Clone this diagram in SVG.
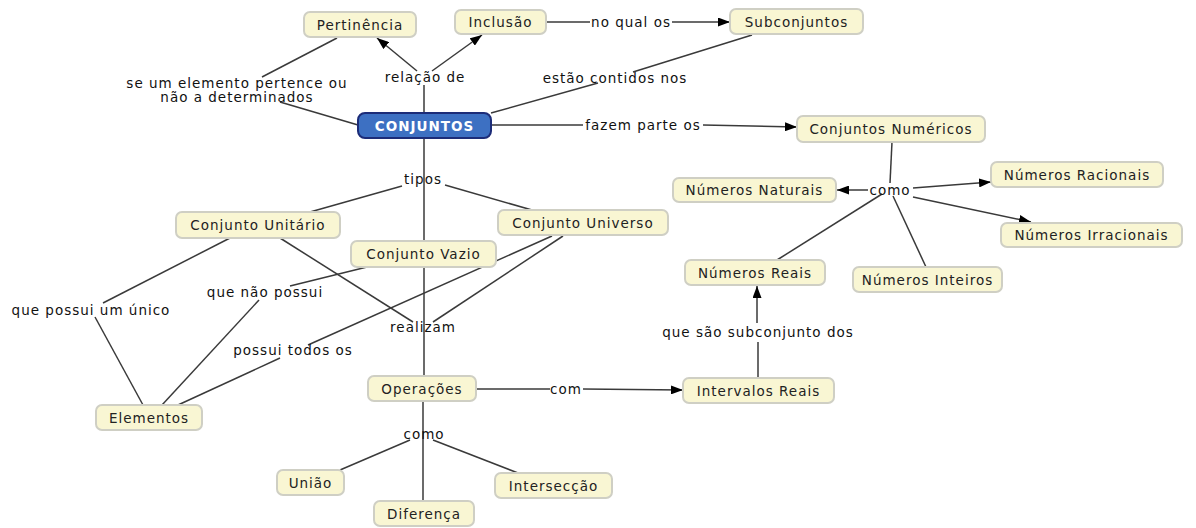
<svg xmlns="http://www.w3.org/2000/svg" width="1196" height="528" viewBox="0 0 1196 528">
  <style>
    text { font-family: "DejaVu Sans", Verdana, sans-serif; font-size: 13.5px; letter-spacing: 1px; text-anchor: middle; dominant-baseline: central; }
    .node rect { fill: #f9f6d3; stroke: #cfcfc4; stroke-width: 2; }
    .node text { fill: #222; }
    .root rect { fill: #3d70c2; stroke: #1c2c78; stroke-width: 2; }
    .root text { fill: #ffffff; font-weight: bold; }
    .label { fill: #111; }
    #connectors path { fill: none; stroke: #3a3a3a; stroke-width: 1.5; }
    #connectors path.arrow { marker-end: url(#head); }
  </style>
  <defs>
    <marker id="head" viewBox="0 0 12 9" refX="12" refY="4.5" markerWidth="12" markerHeight="9" markerUnits="userSpaceOnUse" orient="auto">
      <path d="M0,0 L12,4.5 L0,9 z" fill="#000"/>
    </marker>
  </defs>
  <rect width="1196" height="528" fill="#ffffff"/>

  <g id="connectors">
    <path d="M424,113 L424,85"/>
    <path class="arrow" d="M417,71 L377,38"/>
    <path class="arrow" d="M432,71 L482,35"/>
    <path d="M358,125 L280,102"/>
    <path d="M262,77 L337,38"/>
    <path d="M491,113 L598,83"/>
    <path d="M633,72 L752,35"/>
    <path d="M546,22 L590,22"/>
    <path class="arrow" d="M672,22 L730,22"/>
    <path d="M491,125 L583,125"/>
    <path class="arrow" d="M703,125 L797,127"/>
    <path d="M892,142 L890,183"/>
    <path class="arrow" d="M868,190 L837,190"/>
    <path class="arrow" d="M913,188 L991,182"/>
    <path class="arrow" d="M913,197 L1031,222"/>
    <path d="M882,194 L777,260"/>
    <path d="M893,196 L926,267"/>
    <path d="M424,138 L424,241"/>
    <path d="M402,186 L310,212"/>
    <path d="M445,185 L532,210"/>
    <path d="M230,238 L103,303"/>
    <path d="M95,317 L143,405"/>
    <path d="M280,238 L413,322"/>
    <path d="M367,267 L290,286"/>
    <path d="M259,300 L162,405"/>
    <path d="M552,236 L308,345"/>
    <path d="M280,358 L178,405"/>
    <path d="M563,236 L433,322"/>
    <path d="M424,267 L424,376"/>
    <path d="M476,389 L550,389"/>
    <path class="arrow" d="M583,389 L683,390"/>
    <path d="M423,401 L423,501"/>
    <path d="M410,440 L340,470"/>
    <path d="M433,440 L518,473"/>
    <path d="M758,378 L758,342"/>
    <path class="arrow" d="M757,323 L757,286"/>
  </g>

  <g id="linking-phrases">
    <text class="label" x="425" y="77">relação de</text>
    <text class="label" x="237" y="83">se um elemento pertence ou</text>
    <text class="label" x="237" y="97">não a determinados</text>
    <text class="label" x="615" y="78">estão contidos nos</text>
    <text class="label" x="631" y="22">no qual os</text>
    <text class="label" x="643" y="125">fazem parte os</text>
    <text class="label" x="890" y="190">como</text>
    <text class="label" x="423" y="179">tipos</text>
    <text class="label" x="91" y="310">que possui um único</text>
    <text class="label" x="265" y="292">que não possui</text>
    <text class="label" x="423" y="327">realizam</text>
    <text class="label" x="293" y="350">possui todos os</text>
    <text class="label" x="566" y="389">com</text>
    <text class="label" x="424" y="434">como</text>
    <text class="label" x="758" y="332">que são subconjunto dos</text>
  </g>

  <g id="conjuntos" class="root"><rect x="358" y="113" width="133" height="25" rx="7"/><text x="424.5" y="125.5">CONJUNTOS</text></g>
  <g id="pertinencia" class="node"><rect x="304" y="12" width="112" height="25" rx="6"/><text x="360" y="24.5">Pertinência</text></g>
  <g id="inclusao" class="node"><rect x="455" y="10" width="91" height="24" rx="6"/><text x="500.5" y="22">Inclusão</text></g>
  <g id="subconjuntos" class="node"><rect x="730" y="9" width="133" height="25" rx="6"/><text x="796.5" y="21.5">Subconjuntos</text></g>
  <g id="conjuntos-numericos" class="node"><rect x="797" y="116" width="188" height="26" rx="6"/><text x="891" y="129">Conjuntos Numéricos</text></g>
  <g id="numeros-naturais" class="node"><rect x="673" y="178" width="163" height="24" rx="6"/><text x="754.5" y="190">Números Naturais</text></g>
  <g id="numeros-racionais" class="node"><rect x="991" y="162" width="172" height="25" rx="6"/><text x="1077" y="174.5">Números Racionais</text></g>
  <g id="numeros-irracionais" class="node"><rect x="1001" y="223" width="181" height="24" rx="6"/><text x="1091.5" y="235">Números Irracionais</text></g>
  <g id="numeros-reais" class="node"><rect x="685" y="260" width="140" height="25" rx="6"/><text x="755" y="272.5">Números Reais</text></g>
  <g id="numeros-inteiros" class="node"><rect x="853" y="267" width="149" height="25" rx="6"/><text x="927.5" y="279.5">Números Inteiros</text></g>
  <g id="conjunto-unitario" class="node"><rect x="176" y="212" width="164" height="26" rx="6"/><text x="258" y="225">Conjunto Unitário</text></g>
  <g id="conjunto-vazio" class="node"><rect x="351" y="241" width="145" height="26" rx="6"/><text x="423.5" y="254">Conjunto Vazio</text></g>
  <g id="conjunto-universo" class="node"><rect x="498" y="210" width="170" height="25" rx="6"/><text x="583" y="222.5">Conjunto Universo</text></g>
  <g id="elementos" class="node"><rect x="96" y="405" width="106" height="25" rx="6"/><text x="149" y="417.5">Elementos</text></g>
  <g id="operacoes" class="node"><rect x="368" y="376" width="108" height="25" rx="6"/><text x="422" y="388.5">Operações</text></g>
  <g id="intervalos-reais" class="node"><rect x="683" y="378" width="151" height="25" rx="6"/><text x="758.5" y="390.5">Intervalos Reais</text></g>
  <g id="uniao" class="node"><rect x="277" y="470" width="67" height="25" rx="6"/><text x="310.5" y="482.5">União</text></g>
  <g id="diferenca" class="node"><rect x="374" y="501" width="100" height="25" rx="6"/><text x="424" y="513.5">Diferença</text></g>
  <g id="interseccao" class="node"><rect x="495" y="473" width="117" height="25" rx="6"/><text x="553.5" y="485.5">Intersecção</text></g>
</svg>
